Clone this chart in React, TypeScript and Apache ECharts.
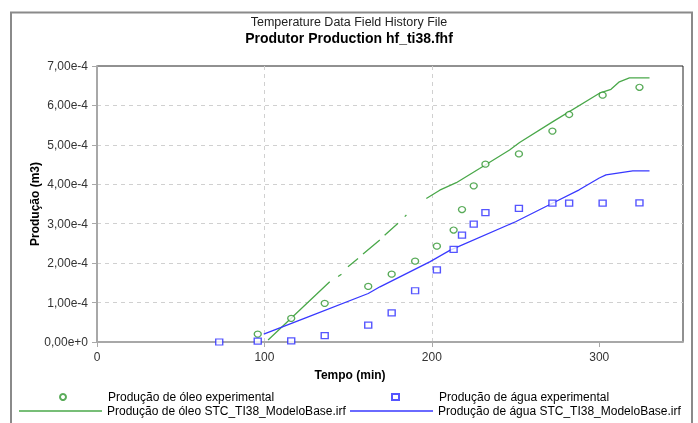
import React, { useEffect, useRef } from "react";
import * as echarts from "echarts";

const titleTop = "Temperature Data Field History File";
const titleMain = "Produtor Production hf_ti38.fhf";
const xName = "Tempo (min)";
const yName = "Produção (m3)";

const nameOilExp = "Produção de óleo experimental";
const nameWaterExp = "Produção de água experimental";
const nameOilModel = "Produção de óleo STC_TI38_ModeloBase.irf";
const nameWaterModel = "Produção de água STC_TI38_ModeloBase.irf";

// experimental sample times (min)
const expTime = [73, 96, 116, 136, 162, 176, 190, 203, 213, 218, 225, 232, 252, 272, 282, 302, 324];
// values in m3
const oilExp = [null, 0.2e-4, 0.6e-4, 0.98e-4, 1.41e-4, 1.72e-4, 2.05e-4, 2.43e-4, 2.84e-4, 3.36e-4, 3.96e-4, 4.51e-4, 4.77e-4, 5.35e-4, 5.77e-4, 6.26e-4, 6.46e-4];
const waterExp = [0, 0.02e-4, 0.03e-4, 0.16e-4, 0.43e-4, 0.74e-4, 1.3e-4, 1.83e-4, 2.35e-4, 2.71e-4, 2.99e-4, 3.28e-4, 3.39e-4, 3.52e-4, 3.52e-4, 3.52e-4, 3.53e-4];

// model curves (null = gap in the drawn curve)
const oilModelTime = [102.2, 139.0, 141.5, 144.0, 146.0, 148.0, 149.9, 155.9, 157.4, 158.9, 168.9, 170.3, 171.8, 179.8, 181.8, 183.8, 184.8, 190.0, 196.7, 204.7, 214.6, 228.5, 246.4, 252.4, 272.3, 300.1, 307.0, 312.0, 318.0, 330.0];
const oilModel = [0.05e-4, 1.53e-4, null, 1.66e-4, 1.72e-4, null, 1.91e-4, 2.12e-4, null, 2.23e-4, 2.59e-4, null, 2.71e-4, 3.01e-4, null, 3.18e-4, 3.22e-4, null, 3.64e-4, 3.85e-4, 4.04e-4, 4.40e-4, 4.87e-4, 5.06e-4, 5.59e-4, 6.31e-4, 6.41e-4, 6.60e-4, 6.70e-4, 6.70e-4];
const waterModelTime = [99.6, 125, 162, 169, 199, 211, 250, 272, 288, 300, 304, 312, 320, 330];
const waterModel = [0.2e-4, 0.62e-4, 1.23e-4, 1.4e-4, 2.04e-4, 2.33e-4, 3.05e-4, 3.52e-4, 3.86e-4, 4.16e-4, 4.24e-4, 4.29e-4, 4.34e-4, 4.34e-4];

const xTicks = [0, 100, 200, 300];

const FONT = "'Liberation Sans', Arial, sans-serif";
const OIL_MARK = "#2f962f";
const WATER_MARK = "#2a2aff";
const OIL_LINE = "#4aa84a";
const WATER_LINE = "#3838ff";

export default function App() {
  const ref = useRef<HTMLDivElement>(null);
  useEffect(() => {
    document.body.style.margin = "0";
    const chart = echarts.init(ref.current!, null, { renderer: "svg" });
    const pair = (t: number[], v: (number | null)[]) => t.map((x, i) => [x, v[i]]);
    const legendBase = {
      orient: "horizontal",
      padding: 0,
      selectedMode: false,
      textStyle: { fontSize: 12, color: "#000", fontFamily: FONT },
    };
    chart.setOption({
      animation: false,
      textStyle: { fontFamily: FONT },
      title: [
        {
          text: titleTop,
          left: "center",
          top: 15,
          padding: 0,
          textStyle: { fontSize: 12.5, fontWeight: "normal", color: "#222", fontFamily: FONT },
        },
        {
          text: titleMain,
          left: "center",
          top: 31,
          padding: 0,
          textStyle: { fontSize: 14, fontWeight: "bold", color: "#000", fontFamily: FONT },
        },
      ],
      graphic: [
        {
          type: "rect",
          shape: { x: 11, y: 12.5, width: 681, height: 440 },
          style: { fill: "none", stroke: "#8a8a8a", lineWidth: 2 },
          silent: true,
        },
      ],
      grid: {
        left: 97,
        right: 15,
        top: 66,
        bottom: 81,
        show: true,
        borderColor: "#222",
        borderWidth: 1,
        backgroundColor: "transparent",
      },
      legend: [
        {
          ...legendBase,
          data: [{ name: nameOilExp, icon: "circle" }],
          left: 59,
          top: 391,
          itemWidth: 6,
          itemHeight: 6,
          textStyle: { ...legendBase.textStyle, padding: [0, 0, 0, 37] },
        },
        { ...legendBase, data: [{ name: nameOilModel, icon: "rect" }], left: 19, top: 405, itemWidth: 83, itemHeight: 1.5 },
        {
          ...legendBase,
          data: [{ name: nameWaterExp, icon: "rect" }],
          left: 391,
          top: 391,
          itemWidth: 7,
          itemHeight: 6,
          textStyle: { ...legendBase.textStyle, padding: [0, 0, 0, 35] },
        },
        { ...legendBase, data: [{ name: nameWaterModel, icon: "rect" }], left: 350, top: 405, itemWidth: 83, itemHeight: 1.5 },
      ],
      xAxis: {
        type: "value",
        min: 0,
        max: 350,
        interval: 100,
        name: xName,
        nameLocation: "middle",
        nameGap: 27,
        nameMoveOverlap: false,
        nameTextStyle: { fontWeight: "bold", fontSize: 12, color: "#000", padding: [0, 80, 0, 0] },
        axisLine: { show: true, lineStyle: { color: "#a8a8a8", width: 2 } },
        axisTick: { show: true, length: 5, customValues: xTicks, lineStyle: { color: "#a8a8a8" } },
        splitLine: { show: true, showMaxLine: false, lineStyle: { color: "#d0d0d0", type: [4, 4] } },
        axisLabel: {
          color: "#333",
          fontSize: 12,
          margin: 9,
          customValues: xTicks,
          formatter: (v: number) => String(v),
        },
      },
      yAxis: {
        type: "value",
        min: 0,
        max: 7e-4,
        interval: 1e-4,
        name: yName,
        nameLocation: "middle",
        nameGap: 56,
        nameMoveOverlap: false,
        nameTextStyle: { fontWeight: "bold", fontSize: 12, color: "#000" },
        axisLine: { show: true, lineStyle: { color: "#a8a8a8", width: 2 } },
        axisTick: { show: true, length: 5, lineStyle: { color: "#a8a8a8" } },
        splitLine: { show: true, showMaxLine: false, lineStyle: { color: "#d0d0d0", type: [4, 4] } },
        axisLabel: {
          color: "#333",
          fontSize: 12,
          margin: 9,
          formatter: (v: number) => {
            const n = Math.round(v * 1e4);
            return n === 0 ? "0,00e+0" : n + ",00e-4";
          },
        },
      },
      series: [
        {
          name: nameOilExp,
          type: "scatter",
          symbol: "circle",
          symbolSize: [7, 6],
          itemStyle: { color: "#fff", borderColor: OIL_MARK, borderWidth: 1.3 },
          data: pair(expTime, oilExp),
          z: 3,
        },
        {
          name: nameWaterExp,
          type: "scatter",
          symbol: "rect",
          symbolSize: [7, 6],
          itemStyle: { color: "#fff", borderColor: WATER_MARK, borderWidth: 1.3 },
          data: pair(expTime, waterExp),
          z: 3,
        },
        {
          name: nameOilModel,
          type: "line",
          symbol: "none",
          connectNulls: false,
          lineStyle: { color: OIL_LINE, width: 1.3 },
          itemStyle: { color: OIL_LINE },
          data: pair(oilModelTime, oilModel),
          z: 2,
        },
        {
          name: nameWaterModel,
          type: "line",
          symbol: "none",
          connectNulls: false,
          lineStyle: { color: WATER_LINE, width: 1.3 },
          itemStyle: { color: WATER_LINE },
          data: pair(waterModelTime, waterModel),
          z: 2,
        },
      ],
    });
    return () => chart.dispose();
  }, []);
  return <div ref={ref} style={{ position: "fixed", left: 0, top: 0, width: 698, height: 423 }} />;
}
